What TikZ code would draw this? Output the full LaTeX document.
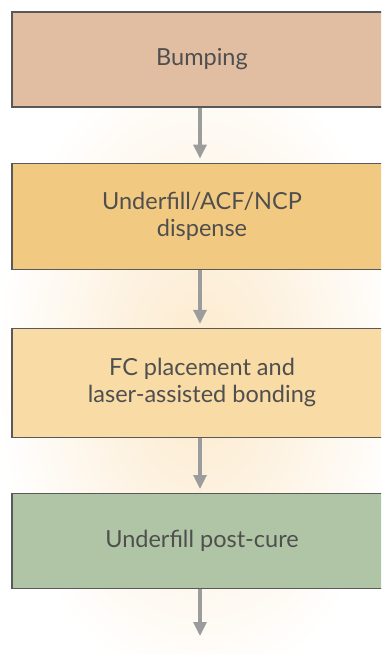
\documentclass[tikz,border=0pt]{standalone}
\usepackage{fontspec}
\setmainfont{Lato}
\usetikzlibrary{positioning,arrows.meta}

\definecolor{bumpfill}{HTML}{E1BDA1}
\definecolor{dispfill}{HTML}{F2C980}
\definecolor{placefill}{HTML}{F8DBA5}
\definecolor{curefill}{HTML}{B0C5A5}
\definecolor{glow}{HTML}{FCE9CB}
\definecolor{flowgray}{HTML}{9C9C9C}
\definecolor{textgray}{HTML}{4F4F4F}

\tikzset{
  stepbox/.style={draw=black!65, line width=1.2pt, minimum width=380pt,
    align=center, text=textgray, font=\fontsize{23.5}{27}\selectfont},
  flow/.style={-{Triangle[width=13pt,length=14pt]}, line width=3.2pt, draw=flowgray, shorten >=4pt}
}

\begin{document}
\begin{tikzpicture}[x=1pt, y=-1pt, node distance=55pt]
  \useasboundingbox (0,0) rectangle (381,654);
  \clip (0,0) rectangle (381,654);

  % Soft background glow
  \shade[inner color=glow, outer color=white] (200,370) ellipse (205 and 320);

  % Process steps
  \node[stepbox, minimum height=95pt, fill=bumpfill] (bump) at (202,59.5) {Bumping};
  \node[stepbox, minimum height=106pt, fill=dispfill, below=of bump] (disp) {Underfill/ACF/NCP\\dispense};
  \node[stepbox, minimum height=109pt, fill=placefill, below=58pt of disp] (place) {FC placement and\\laser-assisted bonding};
  \node[stepbox, minimum height=95pt, fill=curefill, below=of place] (cure) {Underfill post-cure};
  \coordinate (out) at (200,636);

  % Arrows
  \draw[flow] (bump.south -| out) -- (disp.north -| out);
  \draw[flow] (disp.south -| out) -- (place.north -| out);
  \draw[flow] (place.south -| out) -- (cure.north -| out);
  \draw[flow, shorten >=0pt] (cure.south -| out) -- (out);
\end{tikzpicture}
\end{document}
